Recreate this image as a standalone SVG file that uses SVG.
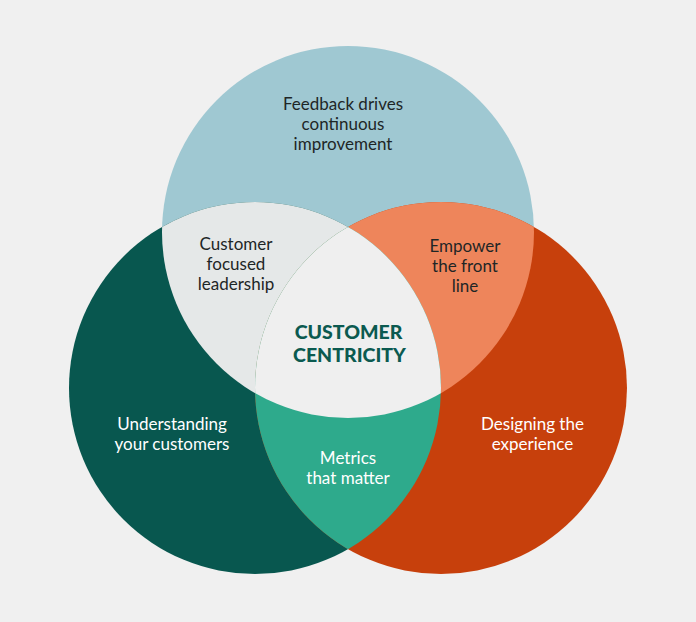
<svg xmlns="http://www.w3.org/2000/svg" width="696" height="622" viewBox="0 0 696 622">
<style>
.lbl{font-family:Lato,"Open Sans","DejaVu Sans",sans-serif;font-size:17px;text-anchor:middle}
.dark{fill:#1e2626}
.light{fill:#ffffff}
.title{font-family:Lato,"Open Sans","DejaVu Sans",sans-serif;font-size:19.5px;font-weight:900;text-anchor:middle;fill:#0b5a50}
</style>
<defs>
<clipPath id="clipTop"><circle cx="348" cy="232" r="186"/></clipPath>
<clipPath id="clipLeft"><circle cx="255" cy="388" r="186"/></clipPath>
<clipPath id="clipRight"><circle cx="441" cy="388" r="186"/></clipPath>
</defs>
<rect width="696" height="622" fill="#f0f0f0"/>
<g id="circle-top"><circle cx="348" cy="232" r="186" fill="#9fc8d2"/></g>
<g id="circle-left"><circle cx="255" cy="388" r="186" fill="#08574f"/></g>
<g id="circle-right"><circle cx="441" cy="388" r="186" fill="#c7400c"/></g>
<g id="overlap-top-left"><circle cx="255" cy="388" r="186" fill="#e5e8e8" clip-path="url(#clipTop)"/></g>
<g id="overlap-top-right"><circle cx="441" cy="388" r="186" fill="#ee855b" clip-path="url(#clipTop)"/></g>
<g id="overlap-left-right"><circle cx="441" cy="388" r="186" fill="#2eaa8c" clip-path="url(#clipLeft)"/></g>
<g id="overlap-center"><g clip-path="url(#clipTop)"><circle cx="441" cy="388" r="186" fill="#efefef" clip-path="url(#clipLeft)"/></g></g>
<g id="connectors"/>
<g id="text-top" class="lbl dark"><text x="343" y="110">Feedback drives</text><text x="343" y="130">continuous</text><text x="343" y="150">improvement</text></g>
<g id="text-top-left" class="lbl dark"><text x="236" y="250">Customer</text><text x="236" y="270">focused</text><text x="236" y="290">leadership</text></g>
<g id="text-top-right" class="lbl dark"><text x="465" y="252">Empower</text><text x="465" y="272">the front</text><text x="465" y="292">line</text></g>
<g id="text-center"><text class="title" x="348.5" y="339">CUSTOMER</text><text class="title" x="349.5" y="361.5">CENTRICITY</text></g>
<g id="text-left" class="lbl light"><text x="172" y="430">Understanding</text><text x="172" y="450">your customers</text></g>
<g id="text-right" class="lbl light"><text x="532.5" y="430">Designing the</text><text x="532.5" y="450">experience</text></g>
<g id="text-bottom" class="lbl light"><text x="348" y="464">Metrics</text><text x="348" y="484">that matter</text></g>
</svg>
